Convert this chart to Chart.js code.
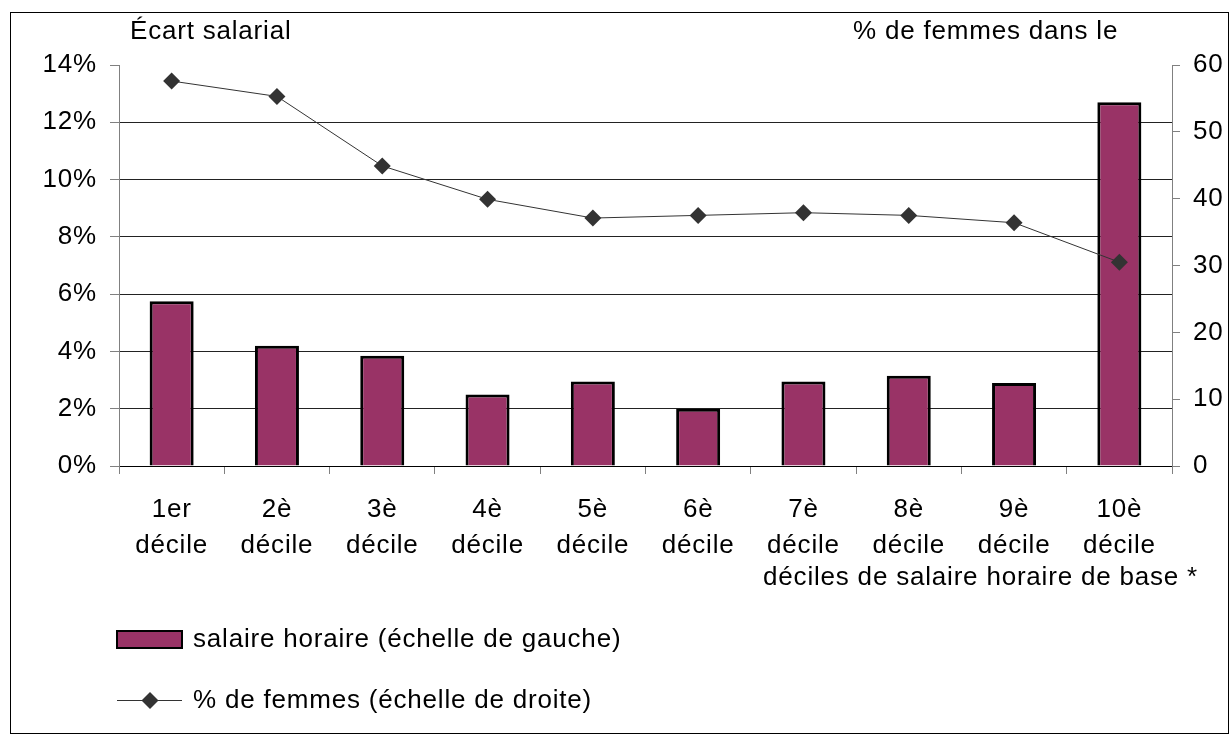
<!DOCTYPE html>
<html>
<head>
<meta charset="utf-8">
<script src="https://cdn.jsdelivr.net/npm/chart.js@4.4.1/dist/chart.umd.min.js"></script>
<style>
  html, body { margin: 0; padding: 0; background: #fff; }
  #wrap { position: relative; width: 1231px; height: 744px; }
</style>
</head>
<body>
<div id="wrap"><canvas id="c" width="1231" height="744"></canvas></div>
<script>
// ---- data ----
const categories = [
  ["1er", "décile"], ["2è", "décile"], ["3è", "décile"], ["4è", "décile"], ["5è", "décile"],
  ["6è", "décile"], ["7è", "décile"], ["8è", "décile"], ["9è", "décile"], ["10è", "décile"]
];
const salaireHoraire = [5.75, 4.2, 3.85, 2.5, 2.95, 2.0, 2.95, 3.15, 2.9, 12.7];
const pctFemmes = [57.6, 55.3, 44.9, 39.9, 37.1, 37.5, 37.9, 37.5, 36.4, 30.5];
const leftTicks = { min: 0, max: 14, step: 2 };
const rightTicks = { min: 0, max: 60, step: 10 };
const labelBars = "salaire horaire (échelle de gauche)";
const labelLine = "% de femmes (échelle de droite)";
const titleLeft = "Écart salarial";
const titleRight = "% de femmes dans le";
const titleX = "déciles de salaire horaire de base *";

const FONT = '"Liberation Sans", Arial, sans-serif';
const FS = 26;
const LS = '0.8px';

const spacing = {
  id: 'spacing',
  beforeInit(chart) { chart.ctx.letterSpacing = LS; },
  beforeLayout(chart) { chart.ctx.letterSpacing = LS; },
  beforeDraw(chart) { chart.ctx.letterSpacing = LS; }
};

const decor = {
  id: 'decor',
  afterDraw(chart) {
    const ctx = chart.ctx;
    ctx.save();
    ctx.letterSpacing = LS;
    // outer border
    ctx.strokeStyle = '#000';
    ctx.lineWidth = 1;
    ctx.strokeRect(10.5, 12.5, 1218, 721);
    ctx.fillStyle = '#000';
    ctx.font = FS + 'px ' + FONT;
    ctx.textBaseline = 'middle';
    ctx.textAlign = 'left';
    ctx.fillText(titleLeft, 130, 32);
    ctx.fillText(titleRight, 853, 32);
    ctx.textAlign = 'right';
    ctx.fillText(titleX, 1198, 578);
    // legend
    const ds0 = chart.data.datasets[0];
    const ds1 = chart.data.datasets[1];
    ctx.fillStyle = ds0.backgroundColor;
    ctx.fillRect(117, 631, 65, 17);
    ctx.strokeStyle = '#000';
    ctx.lineWidth = 2;
    ctx.strokeRect(117, 631, 65, 17);
    ctx.beginPath();
    ctx.strokeStyle = ds1.borderColor;
    ctx.lineWidth = 1;
    ctx.moveTo(117, 700.5);
    ctx.lineTo(182, 700.5);
    ctx.stroke();
    ctx.fillStyle = ds1.pointBackgroundColor;
    ctx.beginPath();
    const r = 8.5, cx = 150, cy = 700.5;
    ctx.moveTo(cx, cy - r); ctx.lineTo(cx + r, cy); ctx.lineTo(cx, cy + r); ctx.lineTo(cx - r, cy);
    ctx.closePath(); ctx.fill();
    ctx.fillStyle = '#000';
    ctx.textAlign = 'left';
    ctx.fillText(labelBars, 193, 640);
    ctx.fillText(labelLine, 193, 701);
    ctx.restore();
  }
};

new Chart(document.getElementById('c'), {
  data: {
    labels: categories,
    datasets: [
      {
        type: 'bar',
        label: labelBars,
        data: salaireHoraire,
        yAxisID: 'y',
        backgroundColor: '#993366',
        borderColor: '#000',
        borderWidth: 3,
        barPercentage: 0.418,
        categoryPercentage: 1.0,
        order: 2
      },
      {
        type: 'line',
        label: labelLine,
        data: pctFemmes,
        yAxisID: 'y1',
        borderColor: '#333333',
        borderWidth: 1,
        pointStyle: 'rectRot',
        pointRadius: 8.5,
        pointBackgroundColor: '#333333',
        pointBorderColor: '#333333',
        pointBorderWidth: 0,
        tension: 0,
        order: 1
      }
    ]
  },
  options: {
    responsive: false,
    animation: false,
    devicePixelRatio: 1,
    layout: { padding: { top: 65, left: 0, right: 0, bottom: 0 } },
    plugins: { legend: { display: false }, tooltip: { enabled: false }, title: { display: false } },
    scales: {
      x: {
        type: 'category',
        offset: true,
        grid: { offset: true, drawOnChartArea: false, drawTicks: true, tickLength: 8, color: '#808080', tickColor: '#808080' },
        border: { display: true, color: '#000', width: 1 },
        ticks: { color: '#000', font: { family: FONT, size: FS, lineHeight: 1.385 }, padding: 18, maxRotation: 0, autoSkip: false },
        afterFit(s) { s.height = 278; }
      },
      y: {
        position: 'left',
        min: leftTicks.min, max: leftTicks.max,
        grid: {
          color: (c) => (c.tick && c.tick.value === leftTicks.max) ? 'rgba(0,0,0,0)' : '#222222',
          tickColor: '#808080', tickLength: 9, drawTicks: true
        },
        border: { display: true, color: '#808080', width: 1 },
        ticks: { stepSize: leftTicks.step, color: '#000', font: { family: FONT, size: FS }, padding: 13,
          callback: (v) => v + '%' },
        afterFit(s) { s.width = 119; }
      },
      y1: {
        position: 'right',
        min: rightTicks.min, max: rightTicks.max,
        grid: { drawOnChartArea: false, tickColor: '#808080', tickLength: 8, drawTicks: true },
        border: { display: true, color: '#808080', width: 1 },
        ticks: { stepSize: rightTicks.step, color: '#000', font: { family: FONT, size: FS }, padding: 13 },
        afterFit(s) { s.width = 59; }
      }
    }
  },
  plugins: [spacing, decor]
});
</script>
</body>
</html>
